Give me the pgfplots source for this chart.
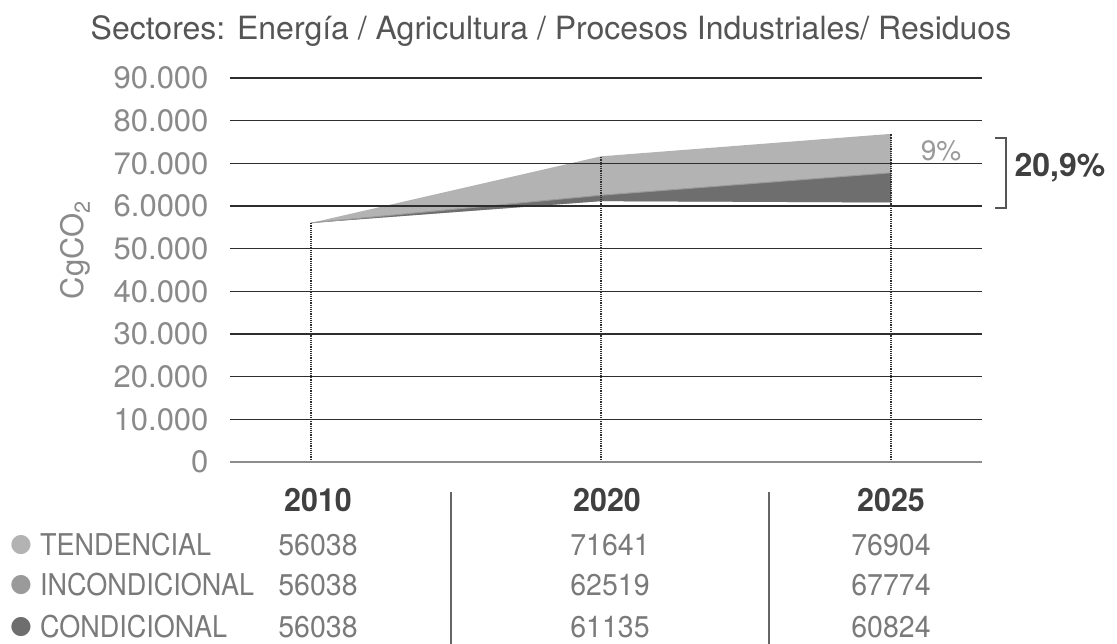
\documentclass[border=0pt]{standalone}
\usepackage{fontspec}
\setmainfont{TeX Gyre Heros}
\newfontfamily\dejavu{DejaVu Sans}
\usepackage{graphicx}
\usepackage{pgfplots}
\pgfplotsset{compat=1.18}
\definecolor{tend}{HTML}{B3B3B3}
\definecolor{incond}{HTML}{9A9A9A}
\definecolor{cond}{HTML}{6E6E6E}
\definecolor{gridc}{HTML}{2E2E2E}
\definecolor{txtgray}{HTML}{8A8A8A}
\definecolor{titlegray}{HTML}{555555}
\definecolor{rowgray}{HTML}{7A7A7A}
\begin{document}
\begin{tikzpicture}[x=1pt,y=1pt]
\path[use as bounding box] (0,0) rectangle (1117,644);
\begin{axis}[at={(230pt,182pt)}, anchor=south west, scale only axis,
  width=752pt, height=384pt,
  xmin=-0.2793, xmax=2.3138, ymin=0, ymax=90000, clip=false,
  axis lines*=left, axis line style={draw=none}, xtick=\empty,
  ytick={10000,20000,30000,40000,50000,60000,70000,80000,90000},
  yticklabels={10.000,20.000,30.000,40.000,50.000,6.0000,70.000,80.000,90.000},
  extra y ticks={0}, extra y tick labels={0},
  extra y tick style={grid style={draw=black!45, line width=1.6pt}},
  major tick length=0pt, ymajorgrids,
  grid style={draw=gridc, line width=1.4pt},
  yticklabel style={font=\fontsize{31}{34}\selectfont, text=txtgray, xshift=-18pt, anchor=east},
  axis on top, scaled y ticks=false]
\addplot[fill=tend, draw=none] coordinates {(0,56038) (1,71641) (2,76904) (2,60824) (1,61135) (0,56038)} -- cycle;
\addplot[fill=cond, draw=none] coordinates {(0,56038) (1,62519) (2,67774) (2,60824) (1,61135) (0,56038)} -- cycle;
\addplot[draw=incond, line width=1pt] coordinates {(0,56038) (1,62519) (2,67774)};
\addplot[densely dotted, line width=1.2pt, draw=gridc] coordinates {(0,0) (0,56038)};
\addplot[densely dotted, line width=1.2pt, draw=gridc] coordinates {(1,0) (1,71641)};
\addplot[densely dotted, line width=1.2pt, draw=gridc] coordinates {(2,0) (2,76904)};
\end{axis}
% title and labels
\node[font=\fontsize{32}{36}\selectfont, text=titlegray] at (551,613) {Sectores: Energía / Agricultura / Procesos Industriales/ Residuos};
\node[rotate=90, font=\fontsize{31}{34}\selectfont, text=txtgray] at (75,394) {CgCO\textsubscript{2}};
% bracket
\draw[line width=1.5pt, titlegray] (995,506) -- (1006,506) -- (1006,436) -- (995,436);
\node[font=\bfseries\fontsize{32}{36}\selectfont, text=black!75, anchor=west] at (1011,476) {20,9\%};
\node[font=\fontsize{28}{30}\selectfont, text=black!40] at (941,493) {9\%};
% table
\draw[line width=1.5pt, black!60] (451,152) -- (451,0);
\draw[line width=1.5pt, black!60] (769,152) -- (769,0);
\begin{scope}[every node/.style={font=\bfseries\fontsize{32}{36}\selectfont, text=black!75}]
\node at (318,144) {\scalebox{0.95}[1]{2010}};
\node at (607,144) {\scalebox{0.95}[1]{2020}};
\node at (891,144) {\scalebox{0.95}[1]{2025}};
\end{scope}
\begin{scope}[every node/.style={font=\fontsize{30}{34}\selectfont, text=rowgray}]
\node[anchor=west, inner sep=0pt, font=\fontsize{25}{28}\selectfont] at (10,99) {\textcolor{tend}{\dejavu ●}};
\node[anchor=west, inner sep=0pt, font=\fontsize{25}{28}\selectfont] at (10,59) {\textcolor{incond}{\dejavu ●}};
\node[anchor=west, inner sep=0pt, font=\fontsize{25}{28}\selectfont] at (10,17) {\textcolor{cond}{\dejavu ●}};
\node[anchor=west, inner sep=0pt] at (40,99) {\scalebox{0.9}[1]{TENDENCIAL}};
\node[anchor=west, inner sep=0pt] at (40,59) {\scalebox{0.9}[1]{INCONDICIONAL}};
\node[anchor=west, inner sep=0pt] at (40,17) {\scalebox{0.9}[1]{CONDICIONAL}};
\node at (318,99) {\scalebox{0.95}[1]{56038}};
\node at (318,59) {\scalebox{0.95}[1]{56038}};
\node at (318,17) {\scalebox{0.95}[1]{56038}};
\node at (610,99) {\scalebox{0.95}[1]{71641}};
\node at (610,59) {\scalebox{0.95}[1]{62519}};
\node at (610,17) {\scalebox{0.95}[1]{61135}};
\node at (891,99) {\scalebox{0.95}[1]{76904}};
\node at (891,59) {\scalebox{0.95}[1]{67774}};
\node at (891,17) {\scalebox{0.95}[1]{60824}};
\end{scope}
\end{tikzpicture}
\end{document}
